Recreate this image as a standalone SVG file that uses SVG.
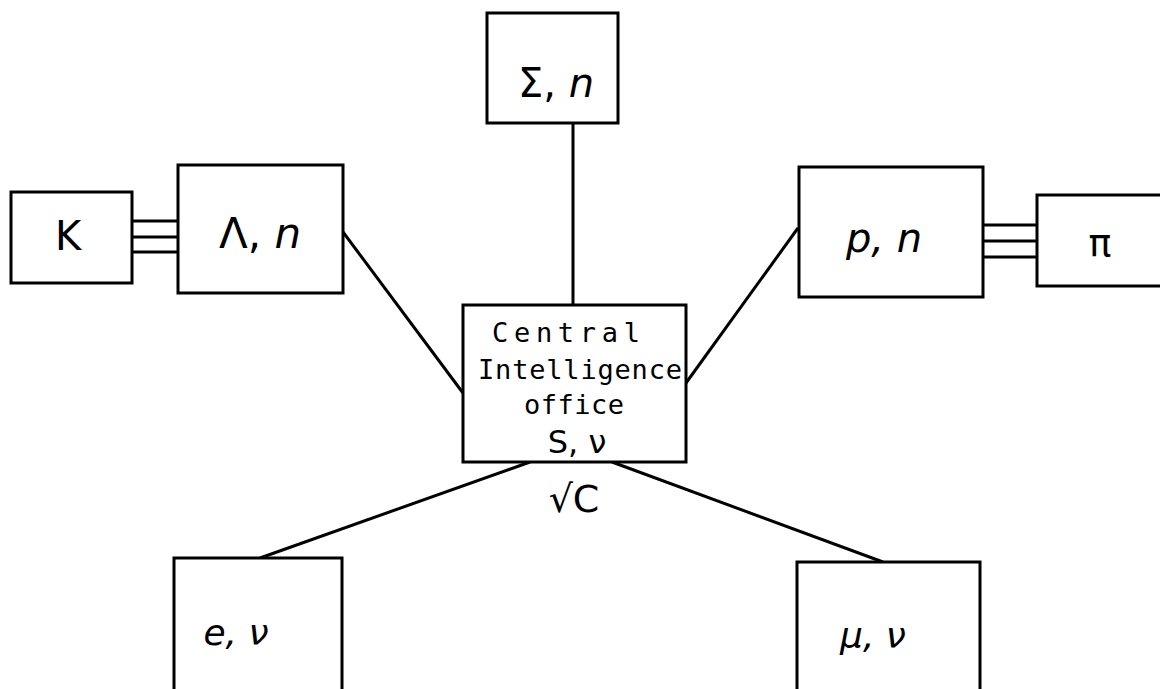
<svg xmlns="http://www.w3.org/2000/svg" width="1160" height="689" viewBox="0 0 1160 689">
<style>
.box{fill:#fff;stroke:#000;stroke-width:3}
.ln{stroke:#000;stroke-width:3;fill:none}
.t{font-family:"DejaVu Sans","Liberation Sans",sans-serif;fill:#000;text-anchor:middle}
.hand{font-family:"DejaVu Sans","Liberation Sans",sans-serif;font-style:italic;fill:#000;text-anchor:middle}
.mono{font-family:"DejaVu Sans Mono","Liberation Mono",monospace;fill:#000}
</style>
<rect width="1160" height="689" fill="#fff"/>
<g id="connectors">
<line class="ln" x1="573" y1="123" x2="573" y2="305"/>
<line class="ln" x1="343" y1="232" x2="463" y2="393"/>
<line class="ln" x1="798" y1="228" x2="686" y2="383"/>
<line class="ln" x1="530" y1="462" x2="260" y2="558"/>
<line class="ln" x1="612" y1="462" x2="883" y2="562"/>
<line class="ln" x1="132" y1="221" x2="178" y2="221"/>
<line class="ln" x1="132" y1="237" x2="178" y2="237"/>
<line class="ln" x1="132" y1="252" x2="178" y2="252"/>
<line class="ln" x1="983" y1="225" x2="1037" y2="225"/>
<line class="ln" x1="983" y1="241" x2="1037" y2="241"/>
<line class="ln" x1="983" y1="257" x2="1037" y2="257"/>
</g>
<g id="sigma">
<rect class="box" x="487" y="13" width="131" height="110"/>
<text class="t" x="556" y="97" font-size="40">Σ, <tspan font-style="italic">n</tspan></text>
</g>
<g id="kaon">
<rect class="box" x="11" y="192" width="121" height="91"/>
<text class="t" x="68" y="250" font-size="40">K</text>
</g>
<g id="lambda">
<rect class="box" x="178" y="165" width="165" height="128"/>
<text class="t" x="260" y="248" font-size="42">Λ, <tspan font-style="italic">n</tspan></text>
</g>
<g id="nucleon">
<rect class="box" x="799" y="167" width="184" height="130"/>
<text class="hand" x="884" y="252" font-size="40">p, n</text>
</g>
<g id="pion">
<rect class="box" x="1037" y="195" width="130" height="91"/>
<text class="t" x="1100" y="256" font-size="38">π</text>
</g>
<g id="central">
<rect class="box" x="463" y="305" width="223" height="157"/>
<text class="mono" x="492" y="342" font-size="27" textLength="148" lengthAdjust="spacing">Central</text>
<text class="mono" x="478" y="379" font-size="27" textLength="204" lengthAdjust="spacing">Intelligence</text>
<text class="mono" x="524" y="414" font-size="27" textLength="100" lengthAdjust="spacing">office</text>
<text class="t" x="577" y="453" font-size="32">S, ν</text>
</g>
<g id="sqrtc">
<text class="t" x="574" y="512" font-size="38">√C</text>
</g>
<g id="electron">
<rect class="box" x="174" y="558" width="168" height="140"/>
<text class="hand" x="236" y="645" font-size="36">e, ν</text>
</g>
<g id="muon">
<rect class="box" x="797" y="562" width="183" height="140"/>
<text class="hand" x="873" y="648" font-size="36">μ, ν</text>
</g>
</svg>
